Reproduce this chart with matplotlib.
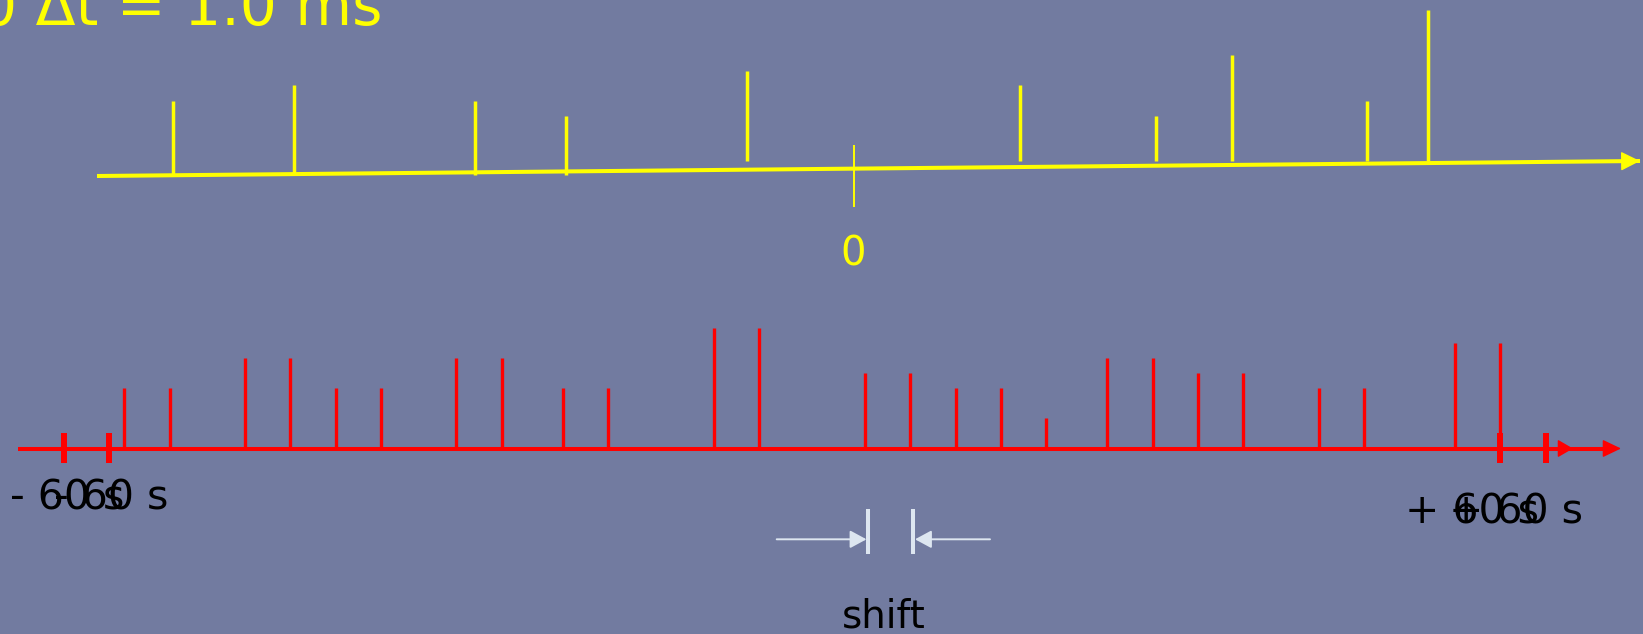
import matplotlib
matplotlib.use('Agg')
from matplotlib import pyplot as plt

# canvas is laid out in pixel units of the slide (x right, y down)
W, H = 1643, 634
BG = '#727ba0'
YELLOW = '#ffff00'
RED = '#ff0000'
LIGHT = '#dde6f0'

# yellow spike train (top panel): position, tip and foot of each spike
yl_x = [173, 294, 475, 566, 747, 1020, 1156, 1231.5, 1367, 1428]
yl_top = [100.7, 85.3, 100.7, 116, 70.7, 85.3, 116, 55, 100.7, 10]
yl_base = [175, 174, 175, 175, 160.7, 160.7, 160.7, 161, 161, 161]
yl_axis_x = [97, 1640]
yl_axis_y = [176, 161]
zero_x = 853.5

# red spike train (bottom panel), original and shifted copy overlaid
rd_x = [124.3, 169.6, 244.6, 290, 335.7, 381, 456.4, 501.8, 562.5, 607.9,
        714, 759, 865, 910, 955.7, 1001, 1046, 1107, 1152.7, 1197.7, 1243,
        1319, 1364, 1455, 1500]
rd_top = [388, 388, 358, 358, 388, 388, 358, 358, 388, 388,
          328, 328, 373, 373, 388, 388, 418, 358, 358, 373, 373,
          388, 388, 343, 343]
rd_axis_y = 448.5
rd_window = [64, 108.5, 1500, 1545.5]   # -60 s / +60 s marks, before and after shift

title = '0 \u0394t = 1.0 ms'
left_label = '- 60 s'
right_label = '+ 60 s'
label_shift = 44

fig = plt.figure(figsize=(W / 100, H / 100), dpi=100, facecolor=BG)
ax = fig.add_axes([0, 0, 1, 1])
ax.set_facecolor(BG)
ax.set_xlim(0, W)
ax.set_ylim(H, 0)
ax.axis('off')

# --- top panel
ax.plot(yl_axis_x, yl_axis_y, color=YELLOW, lw=2.9, solid_capstyle='butt')
ax.annotate('', xy=(yl_axis_x[1], yl_axis_y[1]), xytext=(yl_axis_x[1] - 40, yl_axis_y[1] + 0.4),
            arrowprops=dict(arrowstyle='-|>,head_length=1.2,head_width=0.6', color=YELLOW,
                            lw=1, shrinkA=0, shrinkB=0, mutation_scale=10))
ax.vlines(yl_x, yl_base, yl_top, color=YELLOW, lw=2.5, capstyle='butt')
ax.vlines([zero_x], 145, 206.7, color=YELLOW, lw=1.4, capstyle='butt')
ax.text(zero_x, 266, '0', color=YELLOW, fontsize=29, ha='center', va='baseline')
ax.text(383, 25, title, color=YELLOW, fontsize=42, ha='right', va='baseline')

# --- bottom panel
ax.plot([18, 1610], [rd_axis_y, rd_axis_y], color=RED, lw=2.9, solid_capstyle='butt')
ax.annotate('', xy=(1621, rd_axis_y), xytext=(1590, rd_axis_y),
            arrowprops=dict(arrowstyle='-|>,head_length=1.15,head_width=0.55', color=RED,
                            lw=1, shrinkA=0, shrinkB=0, mutation_scale=10))
ax.annotate('', xy=(1573, rd_axis_y), xytext=(1545, rd_axis_y),
            arrowprops=dict(arrowstyle='-|>,head_length=0.95,head_width=0.55', color=RED,
                            lw=1, shrinkA=0, shrinkB=0, mutation_scale=10))
ax.vlines(rd_x, rd_axis_y, rd_top, color=RED, lw=2.4, capstyle='butt')
ax.vlines(rd_window, 433, 463, color=RED, lw=4.3, capstyle='butt')

for dx in (0, label_shift):
    ax.text(10 + dx, 510, left_label, color='black', fontsize=29.5, ha='left', va='baseline')
    ax.text(1405 + dx, 523, right_label, color='black', fontsize=29.5, ha='left', va='baseline')

# --- shift marker
ax.vlines([868.3, 913.3], 509, 554, color=LIGHT, lw=2.9, capstyle='butt')
ax.annotate('', xy=(866.5, 539.3), xytext=(776.7, 539.3),
            arrowprops=dict(arrowstyle='-|>,head_length=1.0,head_width=0.54', color=LIGHT,
                            lw=1.4, shrinkA=0, shrinkB=0, mutation_scale=10))
ax.annotate('', xy=(915, 539.3), xytext=(990, 539.3),
            arrowprops=dict(arrowstyle='-|>,head_length=1.0,head_width=0.54', color=LIGHT,
                            lw=1.4, shrinkA=0, shrinkB=0, mutation_scale=10))
ax.text(884, 628, 'shift', color='black', fontsize=28, ha='center', va='baseline')

fig.savefig('out.png', dpi=100, facecolor=BG)
